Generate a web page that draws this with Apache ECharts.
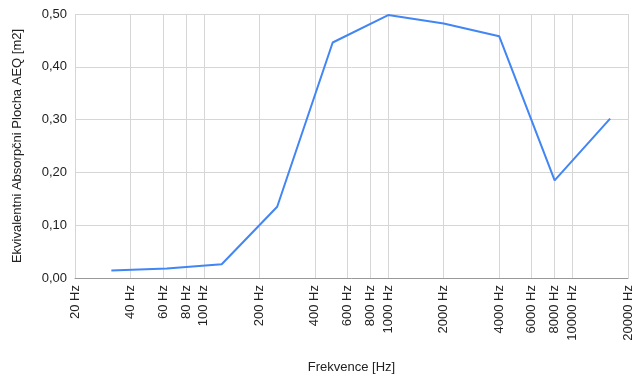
<!DOCTYPE html>
<html>
<head>
<meta charset="utf-8">
<script src="https://cdn.jsdelivr.net/npm/echarts@6/dist/echarts.min.js"></script>
<style>html,body{margin:0;padding:0;background:#fff;}#c{width:642px;height:380px;}</style>
</head>
<body>
<div id="c"></div>
<script>
var frequencies = [31.5, 63, 125, 250, 500, 1000, 2000, 4000, 8000, 16000];
var aeqValues = [0.014, 0.018, 0.026, 0.135, 0.446, 0.498, 0.482, 0.458, 0.185, 0.302];
var xTickFreqs = [20, 40, 60, 80, 100, 200, 400, 600, 800, 1000, 2000, 4000, 6000, 8000, 10000, 20000];
var yTicks = [0, 0.1, 0.2, 0.3, 0.4, 0.5];
var xTitle = 'Frekvence [Hz]';
var yTitle = 'Ekvivalentni Absorpčni Plocha AEQ [m2]';

var chart = echarts.init(document.getElementById('c'), null, {renderer: 'canvas'});
var font = 'Liberation Sans, Arial, sans-serif';
var logTicks = xTickFreqs.map(function (f) { return Math.log10(f); });
var seriesData = frequencies.map(function (f, i) { return [Math.log10(f), aeqValues[i]]; });

chart.setOption({
  animation: false,
  backgroundColor: '#fff',
  grid: {left: 75, right: 14, top: 14, bottom: 102, containLabel: false, outerBoundsMode: 'none'},
  xAxis: {
    type: 'value',
    min: Math.log10(20),
    max: Math.log10(20000),
    name: xTitle,
    nameLocation: 'middle',
    nameGap: 83,
    nameTextStyle: {fontFamily: font, fontSize: 13, color: '#222'},
    axisLine: {show: true, lineStyle: {color: '#999', width: 1}},
    axisTick: {show: false, customValues: logTicks},
    axisLabel: {
      customValues: logTicks,
      rotate: 90,
      margin: 7,
      fontFamily: font,
      fontSize: 13,
      color: '#222',
      formatter: function (v) { return Math.round(Math.pow(10, v)) + ' Hz'; }
    },
    splitLine: {show: true, lineStyle: {color: '#d6d6d6', width: 1}}
  },
  yAxis: {
    type: 'value',
    min: 0,
    max: 0.5,
    interval: 0.1,
    name: yTitle,
    nameLocation: 'middle',
    nameGap: 51,
    nameTextStyle: {fontFamily: font, fontSize: 13, color: '#222'},
    axisLine: {show: false},
    axisTick: {show: false},
    axisLabel: {
      margin: 8,
      fontFamily: font,
      fontSize: 13,
      color: '#222',
      formatter: function (v) { return v.toFixed(2).replace('.', ','); }
    },
    splitLine: {show: true, lineStyle: {color: '#d6d6d6', width: 1}}
  },
  series: [{
    type: 'line',
    data: seriesData,
    showSymbol: false,
    symbol: 'none',
    lineStyle: {color: '#4285f4', width: 2},
    itemStyle: {color: '#4285f4'}
  }]
});
</script>
</body>
</html>
